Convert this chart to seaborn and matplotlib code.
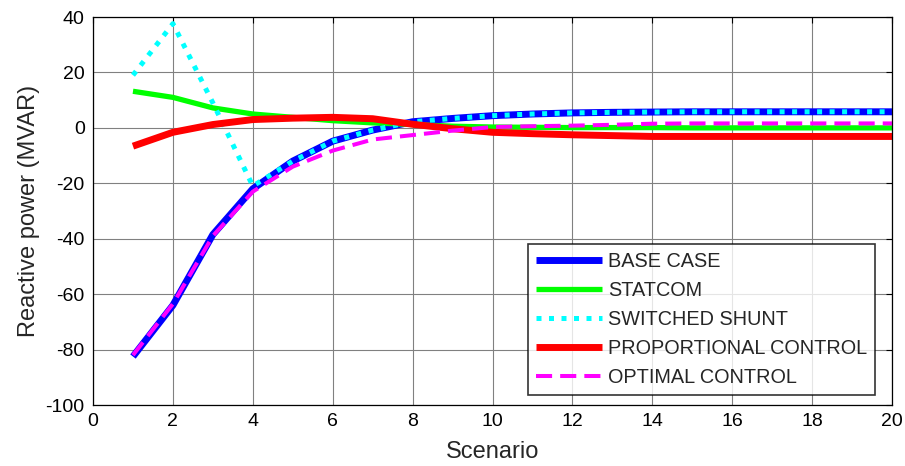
import numpy as np
import pandas as pd
import seaborn as sns
import matplotlib
matplotlib.use('Agg')
import matplotlib.pyplot as plt

# Scenario numbers and reactive power (MVAR) per case
scenario = list(range(1, 21))
base_case = [-82.5, -64, -38.5, -22, -12, -4.8, -0.8, 2.2, 3.4, 4.4, 5.0, 5.4, 5.6, 5.7, 5.8, 5.8, 5.8, 5.8, 5.8, 5.8]
statcom = [13.2, 11, 7.2, 5, 3.8, 2.6, 1.8, 1.2, 0.6, 0.3, 0.2, 0.1, 0.1, 0.1, 0, 0, 0, 0, 0, 0]
switched_shunt = [19, 37.6, 9, -21, -12, -4.8, -0.8, 2.2, 3.4, 4.4, 5.0, 5.4, 5.6, 5.7, 5.8, 5.8, 5.8, 5.8, 5.8, 5.8]
proportional = [-6.6, -1.6, 1.2, 3, 3.5, 3.8, 3.3, 1.3, -0.3, -1.6, -2.1, -2.5, -2.8, -3.1, -3.1, -3.1, -3.1, -3.1, -3.1, -3.1]
optimal = [-82, -63.5, -39, -23, -14, -8.2, -4.2, -2.6, -1.0, 0.3, 0.6, 0.8, 1.1, 1.5, 1.6, 1.6, 1.6, 1.6, 1.6, 1.6]

labels = ['BASE CASE', 'STATCOM', 'SWITCHED SHUNT', 'PROPORTIONAL CONTROL', 'OPTIMAL CONTROL']
series = [base_case, statcom, switched_shunt, proportional, optimal]
colors = ['#0000ff', '#00ff00', '#00ffff', '#ff0000', '#ff00ff']
styles = ['-', '-', (0, (1, 1.5)), '-', (0, (4, 2))]
widths = [5.0, 3.8, 3.6, 5.0, 2.9]

sns.set_style('white')
plt.rcParams['font.family'] = ['Liberation Sans', 'DejaVu Sans']
plt.rcParams['axes.unicode_minus'] = False

fig = plt.figure(figsize=(9.05, 4.66), dpi=100)
ax = fig.add_axes([0.1028, 0.1309, 0.8828, 0.8326])

for lab, vals, c, ls, lw in zip(labels, series, colors, styles, widths):
    sns.lineplot(x=scenario, y=vals, ax=ax, color=c, linestyle=ls, linewidth=lw, label=lab,
                 solid_capstyle='butt', dash_capstyle='butt')

ax.set_xlim(0, 20)
ax.set_ylim(-100, 40)
ax.set_xticks(range(0, 21, 2))
ax.set_yticks(range(-100, 41, 20))
ax.grid(True, color='#808080', linewidth=0.8)
ax.set_axisbelow(True)
for s in ax.spines.values():
    s.set_color('black')
    s.set_linewidth(0.9)
ax.tick_params(direction='in', length=4, top=True, right=True, labelsize=14, colors='black', pad=6)

ax.set_xlabel('Scenario', fontsize=17, labelpad=8)
ax.set_ylabel('Reactive power (MVAR)', fontsize=17)

leg = ax.legend(loc='lower right', bbox_to_anchor=(0.979, 0.026), borderaxespad=0,
                fontsize=14.3, handlelength=3.3, handletextpad=0.3, labelspacing=0.5,
                frameon=True, fancybox=False, edgecolor='black', borderpad=0.42)
leg.get_frame().set_linewidth(1.2)

fig.savefig('out.png', dpi=100)
